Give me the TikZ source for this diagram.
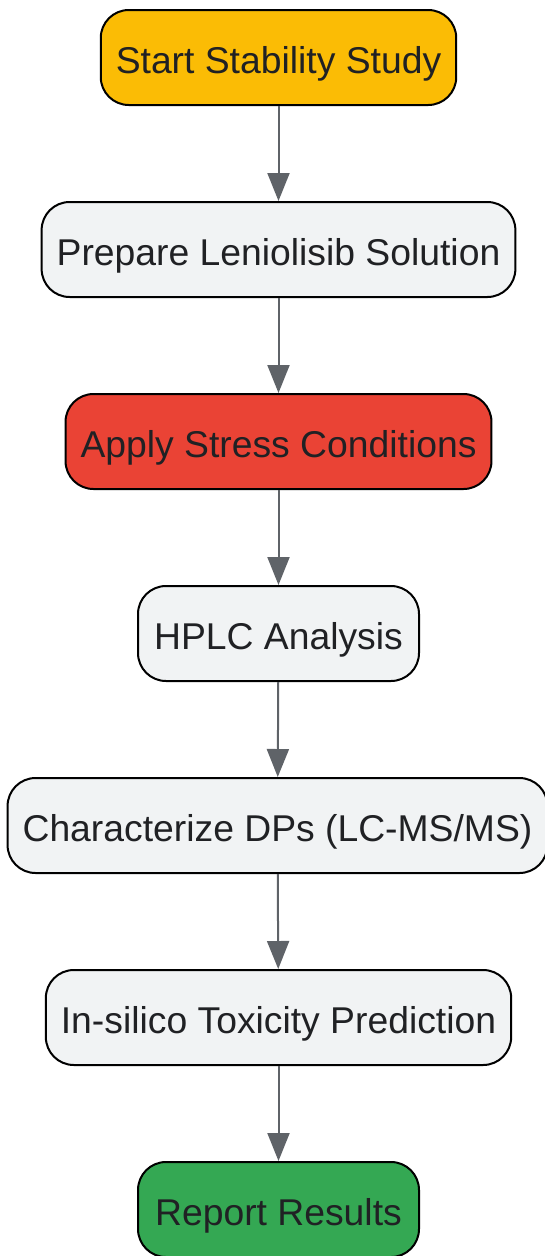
\documentclass[tikz,border=0pt]{standalone}
\usepackage{fontspec}
\setmainfont{Liberation Sans}
\usetikzlibrary{arrows.meta}
\definecolor{startyellow}{HTML}{FBBC05}
\definecolor{boxgray}{HTML}{F1F3F4}
\definecolor{stressred}{HTML}{EA4335}
\definecolor{reportgreen}{HTML}{34A853}
\definecolor{textdark}{HTML}{202124}
\definecolor{arrowgray}{HTML}{5F6368}
\begin{document}
\begin{tikzpicture}[x=1pt,y=-1pt,
        stepbox/.style={draw=black, line width=2pt, rounded corners=28pt, fill=boxgray, text=textdark,
            minimum width=281pt, minimum height=95pt, inner xsep=15pt, text height=36pt, text depth=5pt,
            font=\fontsize{37.3}{44}\selectfont},
        flow/.style={draw=arrowgray, line width=2pt, -{Triangle[length=28pt,width=22pt]}}]
            \useasboundingbox (0,0) rectangle (545,1256);

            \node[stepbox, fill=startyellow] (start) at (278.5,57.5) {Start Stability Study};
            \node[stepbox] (prep) at (278.5,249.5) {Prepare Leniolisib Solution};
            \node[stepbox, fill=stressred] (stress) at (278.5,441.5) {Apply Stress Conditions};
            \node[stepbox] (hplc) at (278.5,633.5) {HPLC Analysis};
            \node[stepbox] (charact) at (277.5,825.5) {Characterize DPs (LC-MS/MS)};
            \node[stepbox] (tox) at (278.5,1017.5) {In-silico Toxicity Prediction};
            \node[stepbox, fill=reportgreen] (report) at (278.5,1209.5) {Report Results};

            \draw[flow] (start) to (prep); \draw[flow] (prep) to (stress); \draw[flow] (stress) to (hplc);
            \draw[flow] (hplc) to (charact); \draw[flow] (charact) to (tox); \draw[flow] (tox) to (report);
        \end{tikzpicture}
\end{document}
